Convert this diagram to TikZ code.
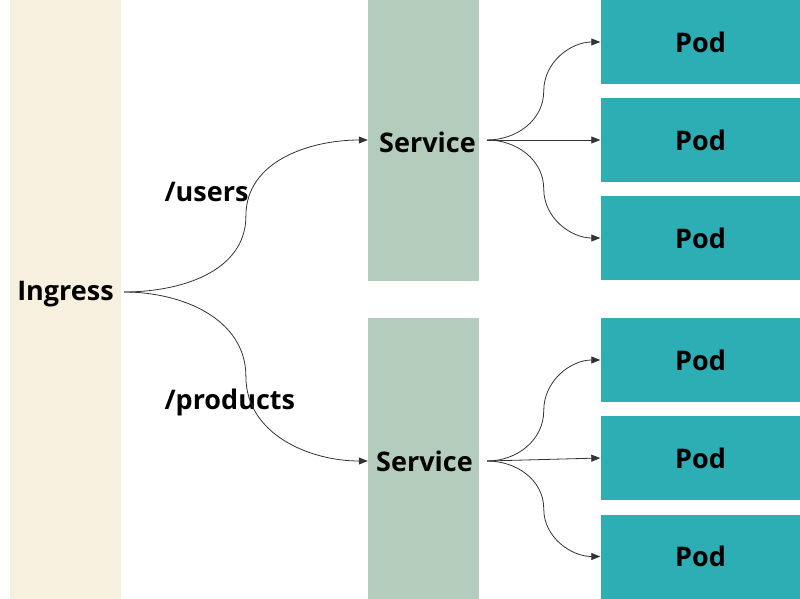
\documentclass[tikz,border=0pt]{standalone}
\usepackage{fontspec}
\setmainfont{Open Sans}
\usetikzlibrary{arrows.meta,calc}
\definecolor{ingressfill}{HTML}{F7F0DE}
\definecolor{servicefill}{HTML}{B3CCBB}
\definecolor{podfill}{HTML}{2DADB4}
\begin{document}
\begin{tikzpicture}[x=1pt,y=-1pt,font=\bfseries\fontsize{27}{31}\selectfont,
    ingressbar/.style ={fill=ingressfill, inner sep=0pt, minimum width=111pt, minimum height=601pt},
    servicebar/.style ={fill=servicefill, inner sep=0pt, minimum width=111pt, minimum height=281pt},
    pod/.style ={fill=podfill, inner sep=0pt, minimum width=200pt, minimum height=84pt},
    link/.style ={draw=black!80, line width=0.8pt, -{Triangle[length=9pt,width=7pt]}}]
   \useasboundingbox (0,0) rectangle (800,599);
   \node[ingressbar] (bar) at (65.5,299.5) {};
   \node (ingress) at (65.5,294) {Ingress};
   \node[servicebar] (s1) at (423.5,140) {};
   \node[servicebar] (s2) at (423.5,458.5) {};
   \node (t1) at (427.5,142) {Service};
   \node (t2) at (424.5,461) {Service};
   \foreach \y [count=\i] in {42,140,238,360,458,556.5}
     \node[pod] (p\i) at (700.5,\y) {Pod};
   \node[anchor=west] (users) at (161,192) {/users};
   \node[anchor=west] (products) at (161,402) {/products};
   % ingress to services
   \coordinate (ingout) at (124,292);
   \coordinate (m1) at ($(ingout)!0.5!(s1.west)$);
   \coordinate (m2) at ($(ingout)!0.5!(s2.west |- t2)$);
   \draw[link] (ingout) to[out=0,in=-90] (m1) to[out=90,in=180] (s1.west);
   \draw[link] (ingout) to[out=0,in=90] (m2) to[out=-90,in=180] (s2.west |- t2);
   % services to pods
   \coordinate (s1out) at ([xshift=8pt]s1.east);
   \coordinate (s2out) at ([xshift=8pt]s2.east |- t2);
   \coordinate (n1) at ($(s1out)!0.5!(p1.west)$);
   \coordinate (n3) at ($(s1out)!0.5!(p3.west)$);
   \coordinate (n4) at ($(s2out)!0.5!(p4.west)$);
   \coordinate (n6) at ($(s2out)!0.5!(p6.west)$);
   \draw[link] (s1out) to[out=0,in=-90] (n1) to[out=90,in=180] (p1.west);
   \draw[link] (s1out) -- (p2.west);
   \draw[link] (s1out) to[out=0,in=90] (n3) to[out=-90,in=180] (p3.west);
   \draw[link] (s2out) to[out=0,in=-90] (n4) to[out=90,in=180] (p4.west);
   \draw[link] (s2out) -- (p5.west);
   \draw[link] (s2out) to[out=0,in=90] (n6) to[out=-90,in=180] (p6.west);
\end{tikzpicture}
\end{document}
